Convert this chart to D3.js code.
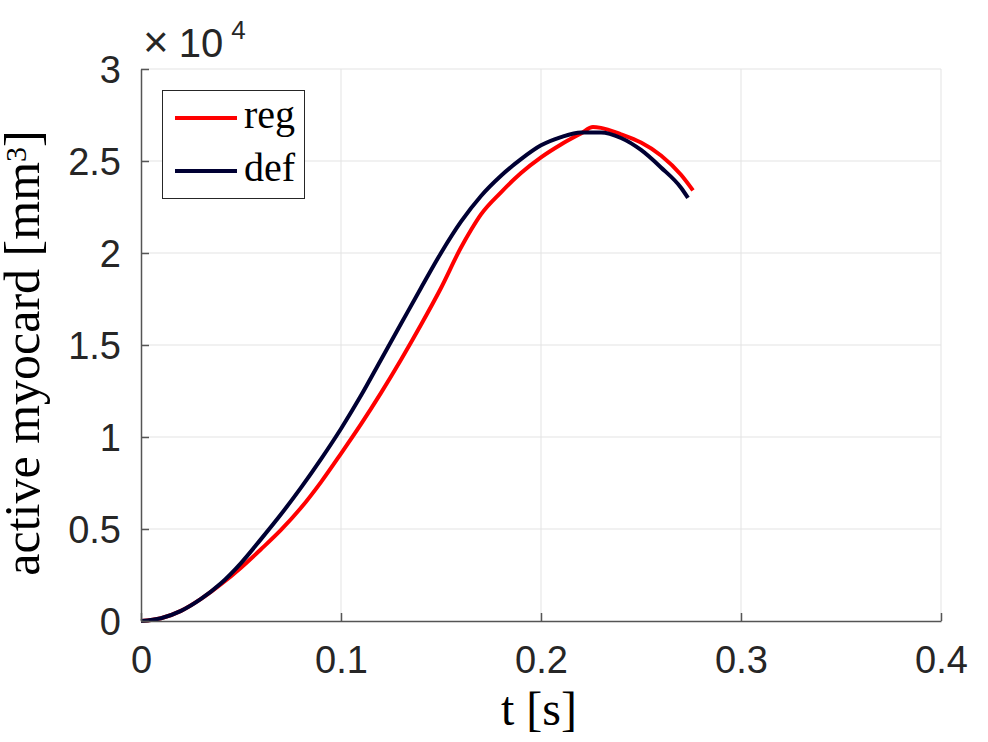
<!DOCTYPE html>
<html lang="en">
    <head>
        <meta charset="utf-8">
        <title>active myocard</title>
        <script type="text/javascript" src="https://cdn.jsdelivr.net/npm/d3@7"></script>
        <style type="text/css">
            body { margin: 0; background: #fff; }
            .tick text { font-family: "Liberation Sans", Arial, sans-serif; font-size: 38px; fill: #262626; }
            .grid line { stroke: #e3e3e3; stroke-width: 1; }
            .serif { font-family: "Liberation Serif", "Times New Roman", serif; fill: #000; }
        </style>
    </head>
    <body>
        <script type="text/javascript">
            var w = 988;
            var h = 742;

            // t in seconds
            var tDef = [0, 0.01, 0.02, 0.03, 0.04, 0.05, 0.06, 0.07, 0.08, 0.09, 0.10, 0.11, 0.12, 0.13, 0.14,
                        0.15, 0.16, 0.17, 0.18, 0.19, 0.20, 0.21, 0.22, 0.23, 0.24, 0.25, 0.26, 0.27, 0.2735];
            // volume in mm^3
            var vDef = [0, 150, 550, 1200, 2050, 3150, 4450, 5800, 7250, 8800, 10450, 12250, 14200, 16150, 18100,
                        20000, 21700, 23100, 24200, 25100, 25850, 26300, 26550, 26550, 26250, 25600, 24650, 23550, 23000];

            var tReg = [0, 0.01, 0.02, 0.03, 0.04, 0.05, 0.06, 0.07, 0.08, 0.09, 0.10, 0.11, 0.12, 0.13, 0.14,
                        0.15, 0.16, 0.165, 0.17, 0.18, 0.19, 0.20, 0.21, 0.22, 0.226, 0.23, 0.24, 0.25, 0.26, 0.27, 0.276];
            var vReg = [0, 150, 550, 1200, 2000, 2900, 3900, 4950, 6150, 7550, 9100, 10700, 12400, 14200, 16100,
                        18100, 20300, 21250, 22100, 23300, 24350, 25200, 25900, 26500, 26850, 26800, 26450, 26000, 25300, 24250, 23400];

            var xTicks = [0, 0.1, 0.2, 0.3, 0.4];
            var yTicks = [0, 5000, 10000, 15000, 20000, 25000, 30000];

            var seriesNames = ["reg", "def"];
            var seriesColors = ["#ff0000", "#000033"];

            var plotLeft = 141, plotRight = 941, plotTop = 69, plotBottom = 621;

            var svg = d3.select("body")
                        .append("svg")
                        .attr("width", w)
                        .attr("height", h);

            var xScale = d3.scaleLinear().domain([0, 0.4]).range([plotLeft, plotRight]);
            var yScale = d3.scaleLinear().domain([0, 30000]).range([plotBottom, plotTop]);

            // grid
            svg.append("g").attr("class", "grid")
                .selectAll("line")
                .data(xTicks.slice(1))
                .enter().append("line")
                .attr("x1", function(d) { return xScale(d); })
                .attr("x2", function(d) { return xScale(d); })
                .attr("y1", plotTop).attr("y2", plotBottom);

            svg.append("g").attr("class", "grid")
                .selectAll("line")
                .data(yTicks.slice(1))
                .enter().append("line")
                .attr("y1", function(d) { return yScale(d); })
                .attr("y2", function(d) { return yScale(d); })
                .attr("x1", plotLeft).attr("x2", plotRight);

            // lines
            var line = d3.line()
                        .x(function(d) { return xScale(d[0]); })
                        .y(function(d) { return yScale(d[1]); })
                        .curve(d3.curveMonotoneX);

            var regData = d3.zip(tReg, vReg);
            var defData = d3.zip(tDef, vDef);

            svg.append("path").datum(regData)
                .attr("d", line)
                .attr("fill", "none")
                .attr("stroke", seriesColors[0])
                .attr("stroke-width", 4);

            svg.append("path").datum(defData)
                .attr("d", line)
                .attr("fill", "none")
                .attr("stroke", seriesColors[1])
                .attr("stroke-width", 4);

            // axes
            var xAxis = d3.axisBottom(xScale)
                            .tickValues(xTicks)
                            .tickSizeInner(-8)
                            .tickSizeOuter(0)
                            .tickPadding(25)
                            .tickFormat(function(d) { return d3.format("")(d); });

            var yAxis = d3.axisLeft(yScale)
                            .tickValues(yTicks)
                            .tickSizeInner(-8)
                            .tickSizeOuter(0)
                            .tickPadding(20)
                            .tickFormat(function(d) { return d / 10000; });

            var gx = svg.append("g")
                .attr("transform", "translate(0," + plotBottom + ")")
                .call(xAxis);

            var gy = svg.append("g")
                .attr("transform", "translate(" + plotLeft + ",0)")
                .call(yAxis);

            [gx, gy].forEach(function(g) {
                g.select(".domain").attr("stroke", "#555").attr("stroke-width", 1.5);
                g.selectAll(".tick line").attr("stroke", "#555").attr("stroke-width", 1.5);
            });
            gy.selectAll(".tick text").attr("dy", "0.36em");

            // exponent label
            var expo = svg.append("text")
                .attr("x", 143).attr("y", 57)
                .attr("font-family", "Liberation Sans, Arial, sans-serif")
                .attr("fill", "#262626");
            expo.append("tspan").attr("font-size", "44px").attr("font-weight", 300).text("\u00d7");
            expo.append("tspan").attr("font-size", "40px").attr("dx", 10).text("10");
            expo.append("tspan").attr("font-size", "26px").attr("dx", 8).attr("dy", -18).text("4");

            // axis labels
            svg.append("text")
                .attr("class", "serif")
                .attr("font-size", "48px")
                .attr("text-anchor", "middle")
                .attr("x", 539).attr("y", 725)
                .text("t [s]");

            var yl = svg.append("text")
                .attr("class", "serif")
                .attr("font-size", "50px")
                .attr("text-anchor", "middle")
                .attr("transform", "translate(39,353) rotate(-90)");
            yl.append("tspan").text("active myocard [mm");
            yl.append("tspan").attr("font-size", "30px").attr("dy", -13).text("3");
            yl.append("tspan").attr("dy", 13).text("]");

            // legend
            var legend = svg.append("g");
            legend.append("rect")
                .attr("x", 162.5).attr("y", 90.5)
                .attr("width", 142).attr("height", 108)
                .attr("fill", "#fff")
                .attr("stroke", "#262626")
                .attr("stroke-width", 1);

            var legendY = [118, 171];
            seriesNames.forEach(function(name, i) {
                legend.append("line")
                    .attr("x1", 175).attr("x2", 237)
                    .attr("y1", legendY[i]).attr("y2", legendY[i])
                    .attr("stroke", seriesColors[i])
                    .attr("stroke-width", 4);
                legend.append("text")
                    .attr("class", "serif")
                    .attr("font-size", "40px")
                    .attr("x", 244).attr("y", legendY[i] + 10)
                    .text(name);
            });
        </script>
    </body>
</html>
